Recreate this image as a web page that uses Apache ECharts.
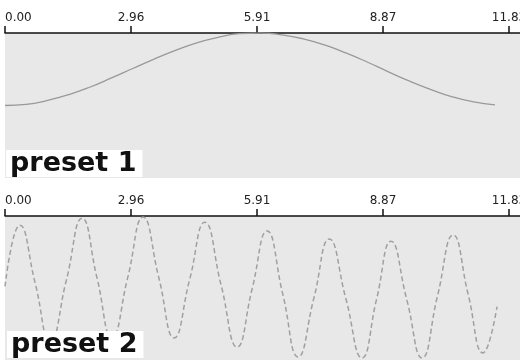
<!DOCTYPE html>
<html>
<head>
<meta charset="utf-8">
<script src="https://cdn.jsdelivr.net/npm/echarts@6/dist/echarts.min.js"></script>
<style>
    html, body { margin: 0; padding: 0; background: #fff; }
    #chart { width: 520px; height: 360px; }
</style>
</head>
<body>
<div id="chart"></div>
<script>
// ================* PRESETS *

// x axis tick labels (one per tick step)
const tickLabels = ['0.00', '2.96', '5.91', '8.87', '11.83', '14.79'];

// preset 1 - slow wave
const preset1X = [0, 0.5, 1, 1.5, 2, 2.5, 3, 3.5, 4, 4.5, 5, 5.5,
    6, 6.5, 7, 7.5, 8, 8.5, 9, 9.5, 10, 10.5, 11, 11.5];
const preset1Y = [-1, -0.97, -0.86, -0.70, -0.49, -0.24, 0.02, 0.28, 0.52, 0.73, 0.88, 0.98,
    1.0, 0.95, 0.84, 0.67, 0.45, 0.20, -0.07, -0.33, -0.56, -0.76, -0.90, -0.98];

// preset 2 - fast wave (peaks, troughs and the points between)
const preset2X = [0, 0.35, 0.71, 1.06, 1.44, 1.81, 2.16, 2.51, 2.88, 3.24, 3.61, 3.97,
    4.33, 4.69, 5.07, 5.45, 5.80, 6.15, 6.52, 6.88, 7.25, 7.61, 8.00, 8.38,
    8.72, 9.06, 9.43, 9.79, 10.15, 10.52, 10.87, 11.22, 11.55];
const preset2Y = [-0.93, 0.75, -0.85, -2.45, -0.76, 0.94, -0.70, -2.34, -0.69, 0.97, -0.69, -2.34,
    -0.76, 0.83, -0.88, -2.59, -1.00, 0.59, -1.14, -2.86, -1.25, 0.37, -1.26, -2.89,
    -1.29, 0.31, -1.29, -2.89, -1.20, 0.48, -1.14, -2.75, -1.48];


function pairs(xs, ys) {
    return xs.map(function (x, i) {
        return [x, ys[i]];
    });
}

function xAxisFor(gridIndex) {
    const step = 2.9575;
    return {
        type: 'value',
        gridIndex: gridIndex,
        position: 'top',
        min: 0,
        max: step * 5,
        interval: step,
        axisLine: {
            show: true,
            onZero: false,
            lineStyle: { color: '#111', width: 1.5 }
        },
        axisTick: {
            show: true,
            length: 7,
            lineStyle: { color: '#111', width: 1.5 }
        },
        splitLine: { show: false },
        axisLabel: {
            margin: 9,
            fontSize: 12,
            fontFamily: 'DejaVu Sans',
            color: '#222',
            alignMinLabel: 'left',
            formatter: function (v) {
                return tickLabels[Math.round(v / step)];
            }
        }
    };
}

function yAxisFor(gridIndex) {
    return {
        type: 'value',
        gridIndex: gridIndex,
        min: -3,
        max: 1,
        show: false
    };
}

function titleFor(text, left, top) {
    return {
        text: text,
        left: left,
        top: top,
        backgroundColor: '#fff',
        padding: [0, 6, 0, 4],
        textStyle: {
            fontFamily: 'DejaVu Sans',
            fontSize: 27,
            fontWeight: 'bold',
            color: '#111',
            lineHeight: 25
        }
    };
}

function drawPresets() {
    var chart = echarts.init(document.getElementById('chart'));
    // the axes run past the right edge, so the page cuts them off
    var gridBase = {
        left: 5,
        right: -115,
        show: true,
        backgroundColor: '#e8e8e8',
        borderWidth: 0,
        containLabel: false,
        outerBoundsMode: 'none'
    };
    var option = {
        animation: false,
        backgroundColor: '#fff',
        title: [
            titleFor('preset 1', 6, 151),
            titleFor('preset 2', 7, 332)
        ],
        grid: [
            Object.assign({ top: 33, height: 145 }, gridBase),
            Object.assign({ top: 216, height: 146 }, gridBase)
        ],
        xAxis: [xAxisFor(0), xAxisFor(1)],
        yAxis: [yAxisFor(0), yAxisFor(1)],
        series: [{
            name: 'preset 1',
            type: 'line',
            xAxisIndex: 0,
            yAxisIndex: 0,
            smooth: true,
            showSymbol: false,
            lineStyle: { color: '#999', width: 1.3 },
            data: pairs(preset1X, preset1Y)
        }, {
            name: 'preset 2',
            type: 'line',
            xAxisIndex: 1,
            yAxisIndex: 1,
            smooth: true,
            showSymbol: false,
            lineStyle: { color: '#a0a0a0', width: 1.5, type: [5, 3] },
            data: pairs(preset2X, preset2Y)
        }]
    };
    chart.setOption(option);
}

drawPresets();
</script>
</body>
</html>
